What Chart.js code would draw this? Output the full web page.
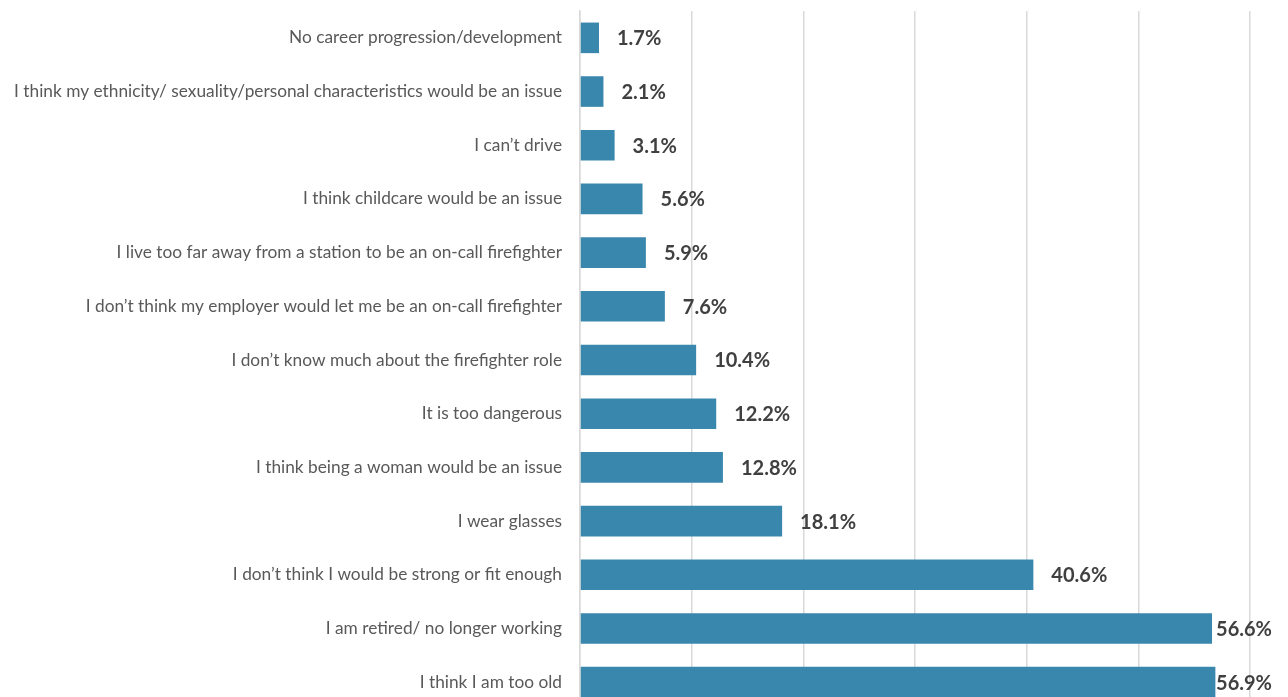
<!DOCTYPE html>
<html>
<head>
<meta charset="utf-8">
<script src="https://cdn.jsdelivr.net/npm/chart.js@4"></script>
<style>
  html, body { margin: 0; padding: 0; background: #fff; overflow: hidden; }
  #wrap { width: 1288px; height: 709px; position: relative; }
</style>
</head>
<body>
<div id="wrap"><canvas id="myChart"></canvas></div>
<script>
const razoes = [
    'No career progression/development',
    'I think my ethnicity/ sexuality/personal characteristics would be an issue',
    'I can\u2019t drive',
    'I think childcare would be an issue',
    'I live too far away from a station to be an on-call firefighter',
    'I don\u2019t think my employer would let me be an on-call firefighter',
    'I don\u2019t know much about the firefighter role',
    'It is too dangerous',
    'I think being a woman would be an issue',
    'I wear glasses',
    'I don\u2019t think I would be strong or fit enough',
    'I am retired/ no longer working',
    'I think I am too old'
];
const percentuais = [1.7, 2.1, 3.1, 5.6, 5.9, 7.6, 10.4, 12.2, 12.8, 18.1, 40.6, 56.6, 56.9];
const eixoX = [0, 10, 20, 30, 40, 50, 60];

const fonte = 'Lato, "Open Sans", sans-serif';

// rótulos de valor na ponta de cada barra
const rotulos = {
    id: 'rotulos',
    afterDatasetsDraw(chart) {
        const ctx = chart.ctx;
        const meta = chart.getDatasetMeta(0);
        const limite = chart.width - 16;
        ctx.save();
        ctx.font = 'bold 20px ' + fonte;
        ctx.fillStyle = '#404040';
        ctx.textBaseline = 'middle';
        ctx.textAlign = 'left';
        meta.data.forEach((bar, i) => {
            const txt = percentuais[i].toFixed(1) + '%';
            const w = ctx.measureText(txt).width;
            let x = bar.x + 18;
            if (x + w > limite) x = limite - w;
            ctx.fillText(txt, x, bar.y + 1);
        });
        ctx.restore();
    }
};

const grafico = document.getElementById('myChart');

new Chart(grafico, {
    type: 'bar',
    data: {
        labels: razoes,
        datasets: [{
            data: percentuais,
            backgroundColor: '#3A87AE',
            borderWidth: 0,
            barPercentage: 0.57,
            categoryPercentage: 1
        }]
    },
    options: {
        indexAxis: 'y',
        responsive: true,
        maintainAspectRatio: false,
        animation: false,
        layout: {
            padding: { top: 11, right: 38, bottom: 0, left: 0 }
        },
        plugins: {
            legend: { display: false },
            tooltip: { enabled: false }
        },
        scales: {
            x: {
                min: eixoX[0],
                max: eixoX[eixoX.length - 1],
                afterBuildTicks: s => { s.ticks = eixoX.map(v => ({ value: v })); },
                afterFit: s => { s.height = 0; s.paddingLeft = 0; s.paddingRight = 0; },
                ticks: { display: false },
                grid: { color: '#d9d9d9', lineWidth: 1.5, drawTicks: false },
                border: { display: false }
            },
            y: {
                afterFit: s => { s.width = 580; s.paddingTop = 0; s.paddingBottom = 0; },
                ticks: {
                    padding: 18,
                    color: '#595959',
                    font: { family: fonte, size: 17.3 }
                },
                grid: { display: false, drawTicks: false },
                border: { color: '#d9d9d9', width: 1.5 }
            }
        }
    },
    plugins: [rotulos]
});
</script>
</body>
</html>
